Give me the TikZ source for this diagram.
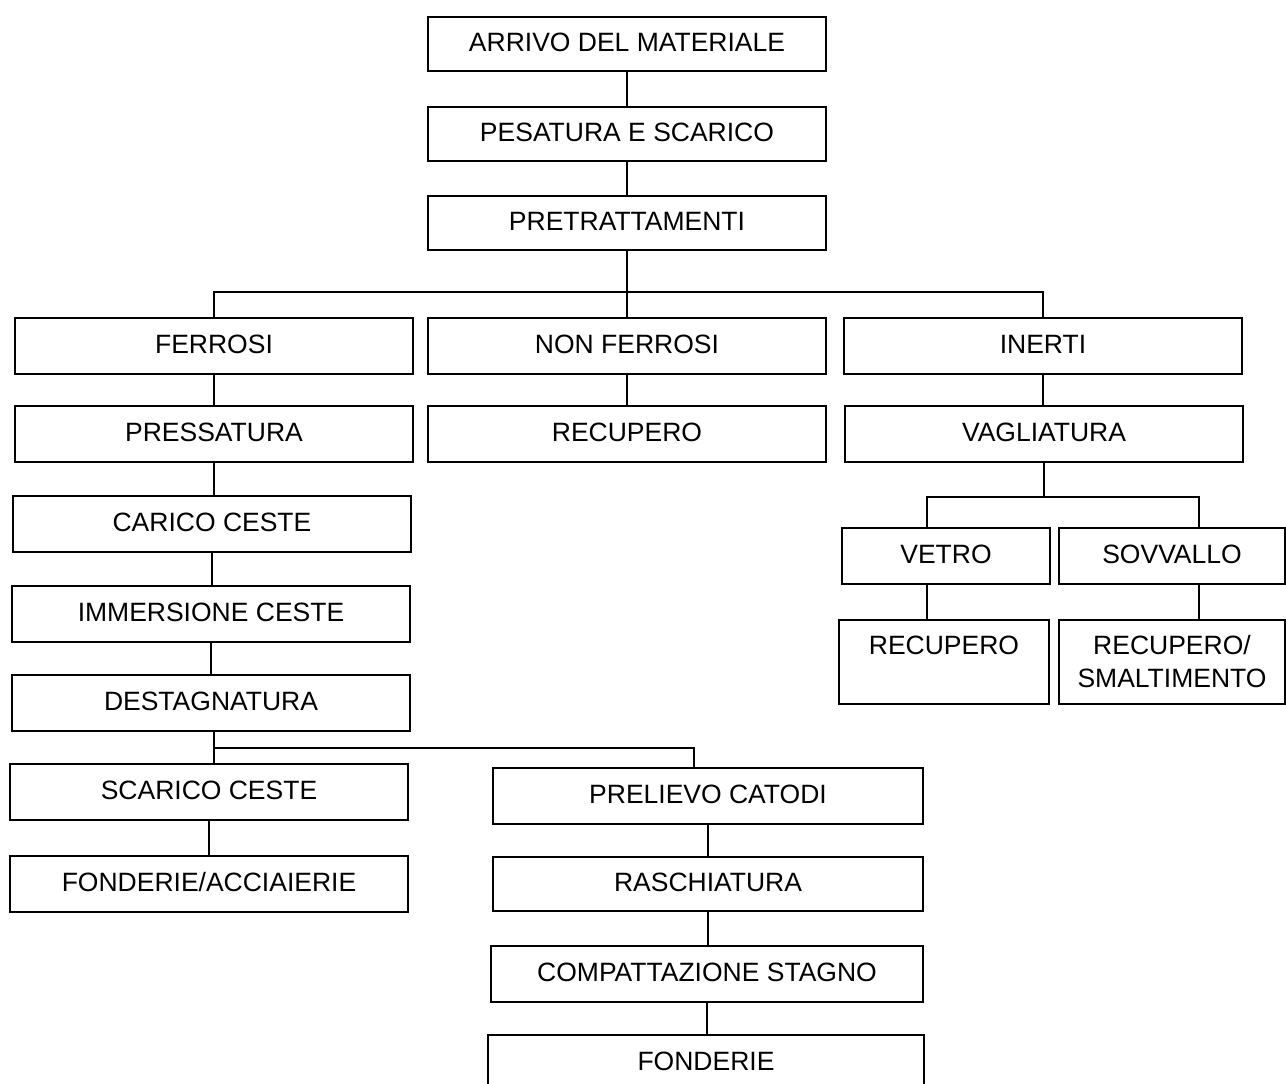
\documentclass[tikz,border=0pt]{standalone}
\usepackage{fontspec}
\setmainfont{Liberation Sans}
\tikzset{
  blocco/.style={draw, line width=2pt, inner sep=0pt, minimum height=56pt,
    minimum width=398pt, align=center, font=\fontsize{26.5}{33}\selectfont},
  riga/.style={blocco, text height=19pt, text depth=5pt},
  linea/.style={line width=2pt}
}
\begin{document}
\begin{tikzpicture}[x=1pt, y=-1pt]
  \useasboundingbox (0,0) rectangle (1286,1084);
  \clip (0,0) rectangle (1286,1084);

  % colonna centrale in alto
  \node[riga, minimum height=54pt] (arrivo) at (627,44) {ARRIVO DEL MATERIALE};
  \node[riga, minimum height=54pt] (pesatura) at (627,134) {PESATURA E SCARICO};
  \node[riga, minimum height=54pt] (pretratt) at (627,223) {PRETRATTAMENTI};

  % le tre famiglie
  \node[riga] (ferrosi) at (214,346) {FERROSI};
  \node[riga] (nonferrosi) at (627,346) {NON FERROSI};
  \node[riga] (inerti) at (1043,346) {INERTI};

  \node[riga] (pressatura) at (214,434) {PRESSATURA};
  \node[riga] (recupnf) at (627,434) {RECUPERO};
  \node[riga] (vagliatura) at (1044,434) {VAGLIATURA};

  % ramo ferrosi
  \node[riga] (carico) at (212,524) {CARICO CESTE};
  \node[riga] (immersione) at (211,614) {IMMERSIONE CESTE};
  \node[riga] (destagn) at (211,703) {DESTAGNATURA};
  \node[riga] (scarico) at (209,792) {SCARICO CESTE};
  \node[riga] (fondacc) at (209,884) {FONDERIE/ACCIAIERIE};

  \node[riga, minimum width=430pt] (prelievo) at (708,796) {PRELIEVO CATODI};
  \node[riga, minimum width=430pt, minimum height=54pt] (raschiatura) at (708,884) {RASCHIATURA};
  \node[riga, minimum width=432pt] (compatt) at (707,974) {COMPATTAZIONE STAGNO};
  \node[riga, minimum width=436pt] (fonderie) at (706,1063) {FONDERIE};

  % ramo inerti
  \node[riga, minimum width=208pt] (vetro) at (946,556) {VETRO};
  \node[riga, minimum width=226pt] (sovvallo) at (1172,556) {SOVVALLO};
  \node[blocco, minimum width=210pt, minimum height=84pt] (recupvetro) at (944,662) {RECUPERO\\\mbox{}};
  \node[blocco, minimum width=226pt, minimum height=84pt] (smaltimento) at (1172,662) {RECUPERO/\\SMALTIMENTO};

  % collegamenti verticali
  \foreach \a/\b in {arrivo/pesatura, pesatura/pretratt, pretratt/nonferrosi,
      ferrosi/pressatura, nonferrosi/recupnf, inerti/vagliatura,
      pressatura/carico, carico/immersione, immersione/destagn,
      scarico/fondacc, prelievo/raschiatura, raschiatura/compatt, compatt/fonderie}
    \draw[linea] (\a.south) -- (\a.south |- \b.north);

  % diramazioni
  \coordinate (bivio1) at (627,292);
  \draw[linea] (ferrosi.north) -- (ferrosi.north |- bivio1) -- (inerti.north |- bivio1) -- (inerti.north);

  \coordinate (bivio2) at (1044,497);
  \draw[linea] (vagliatura.south) -- (bivio2);
  \draw[linea] ([xshift=-19pt]vetro.north) |- ([xshift=27pt]sovvallo.north |- bivio2) -- ([xshift=27pt]sovvallo.north);
  \draw[linea] ([xshift=-19pt]vetro.south) -- ([xshift=-19pt]vetro.south |- recupvetro.north);
  \draw[linea] ([xshift=27pt]sovvallo.south) -- ([xshift=27pt]sovvallo.south |- smaltimento.north);

  \coordinate (bivio3) at (214,748);
  \draw[linea] ([xshift=3pt]destagn.south) -- ([xshift=3pt]destagn.south |- scarico.north);
  \draw[linea] (bivio3) -| ([xshift=-14pt]prelievo.north);
\end{tikzpicture}
\end{document}
